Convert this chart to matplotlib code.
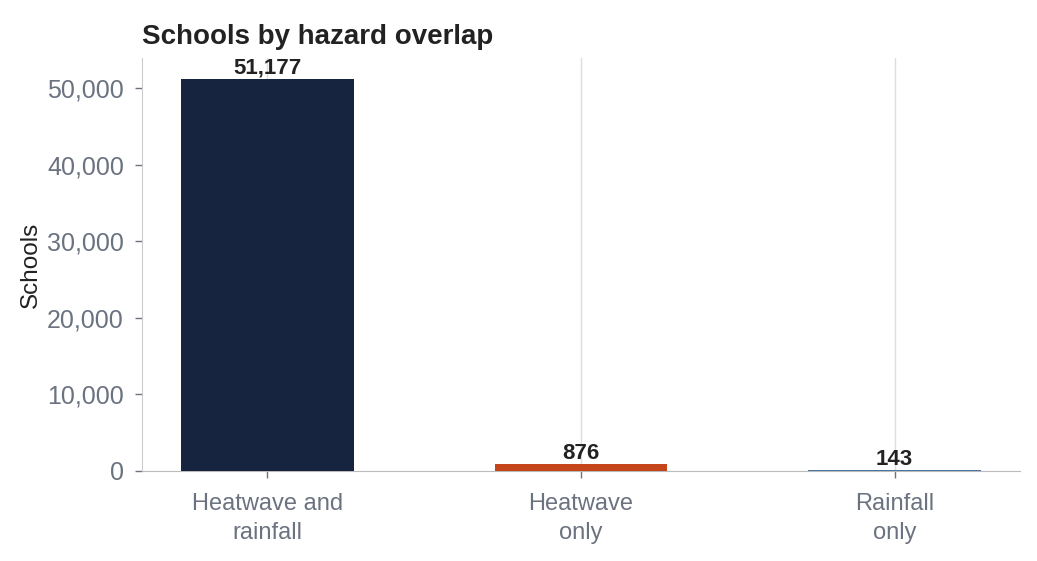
import matplotlib
matplotlib.use("Agg")
import matplotlib.pyplot as plt
from matplotlib.ticker import FuncFormatter

categories = ["Heatwave and\nrainfall", "Heatwave\nonly", "Rainfall\nonly"]
values = [51177, 876, 143]
colors = ["#172440", "#c4461a", "#4a77a0"]

plt.rcParams['font.family'] = ['Liberation Sans', 'DejaVu Sans']

fig = plt.figure(figsize=(10.37, 5.61), dpi=100)
ax = fig.add_axes([142/1037, 1-471/561, (1020-142)/1037, (471-58)/561])

x = list(range(len(categories)))
ax.bar(x, values, width=0.55, color=colors, zorder=3)
for xi, v in zip(x, values):
    ax.text(xi, v, f"{v:,}", ha="center", va="bottom", fontsize=16, fontweight="bold", color="#222222", zorder=4)

ax.set_xlim(-0.4, 2.4)
ax.set_ylim(0, 53900)
ax.set_xticks(x)
ax.set_xticklabels(categories, linespacing=1.4)
ax.set_yticks([0, 10000, 20000, 30000, 40000, 50000])
ax.yaxis.set_major_formatter(FuncFormatter(lambda v, p: f"{int(v):,}"))
ax.tick_params(axis="both", labelcolor="#6b7280", color="#6b7280", length=5, width=1)
ax.tick_params(axis="y", labelsize=18, pad=8)
ax.tick_params(axis="x", labelsize=17, pad=11)
ax.grid(axis="x", color="#dddddd", linewidth=1, zorder=0)
ax.grid(axis="y", visible=False)
for s in ["top", "right"]:
    ax.spines[s].set_visible(False)
ax.spines["left"].set_color("#cccccc")
ax.spines["bottom"].set_color("#bbbbbb")
ax.set_ylabel("Schools", fontsize=17.5, color="#222222", labelpad=4)
ax.set_title("Schools by hazard overlap", loc="left", fontsize=20, fontweight="bold", color="#222222", pad=10)

fig.savefig("out.png", dpi=100)
